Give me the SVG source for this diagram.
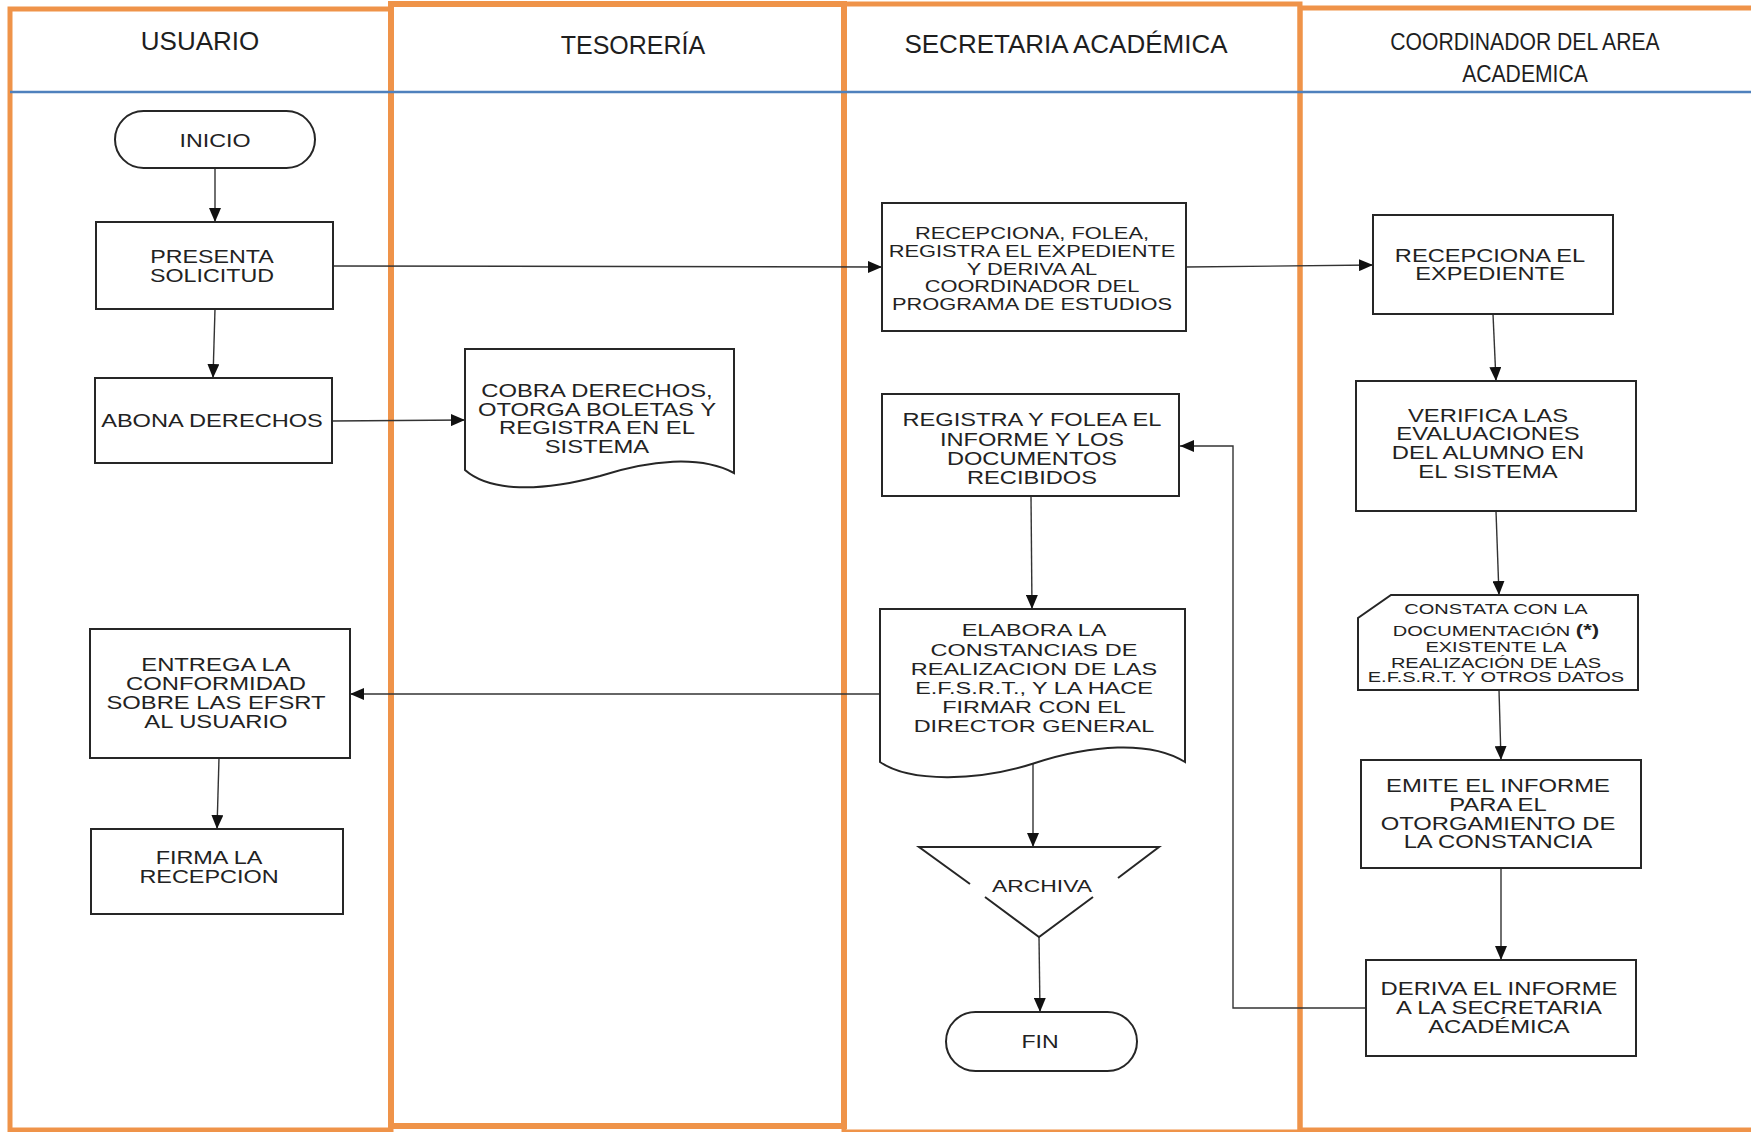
<svg xmlns="http://www.w3.org/2000/svg" width="1751" height="1132" viewBox="0 0 1751 1132">
<style>
.lane{fill:none;stroke:#EF9349;stroke-width:5}
.hdr{font-family:"Liberation Sans",Arial,sans-serif;fill:#1e1e1e;text-anchor:middle}
.box{fill:#fff;stroke:#262626;stroke-width:2}
.shape{fill:none;stroke:#262626;stroke-width:2}
.t{font-family:"Liberation Sans",Arial,sans-serif;fill:#222;text-anchor:middle}
.tb{font-size:18.6px}
.ts{font-size:15.6px}
.te{font-size:16.3px}
.tc{font-size:14.5px}
.ta{font-size:17.2px}
.conn{fill:none;stroke:#333;stroke-width:1.4}
</style>
<defs>
<marker id="arr" markerUnits="userSpaceOnUse" markerWidth="14" markerHeight="12" refX="14" refY="6" orient="auto">
<path d="M0,0 L14,6 L0,12 Z" fill="#111"/>
</marker>
</defs>
<rect width="1751" height="1132" fill="#fff"/>

<g id="lanes">
<rect class="lane" x="10" y="9" width="381" height="1121"/>
<rect class="lane" x="391" y="4" width="453" height="1122" style="stroke-width:6"/>
<rect class="lane" x="844" y="4" width="456" height="1128"/>
<rect class="lane" x="1300" y="8" width="470" height="1122"/>
<line x1="10" y1="92" x2="1751" y2="92" stroke="#4F81BD" stroke-width="2.5"/>
<text class="hdr" x="200" y="50" font-size="26">USUARIO</text>
<text class="hdr" x="633" y="54" font-size="25">TESORERÍA</text>
<text class="hdr" x="1066" y="53" font-size="26">SECRETARIA ACADÉMICA</text>
<text class="hdr" font-size="23" transform="matrix(0.92 0 0 1 122 0)"><tspan x="1525" y="50">COORDINADOR DEL AREA</tspan><tspan x="1525" y="82">ACADEMICA</tspan></text>
</g>

<g id="connectors">
<path class="conn" d="M215,168 L215,222" marker-end="url(#arr)"/>
<path class="conn" d="M215,309 L213,378" marker-end="url(#arr)"/>
<path class="conn" d="M333,266 L882,267" marker-end="url(#arr)"/>
<path class="conn" d="M332,421 L465,420" marker-end="url(#arr)"/>
<path class="conn" d="M1186,267 L1373,265" marker-end="url(#arr)"/>
<path class="conn" d="M1493,314 L1496,381" marker-end="url(#arr)"/>
<path class="conn" d="M1496,511 L1499,595" marker-end="url(#arr)"/>
<path class="conn" d="M1499,690 L1501,760" marker-end="url(#arr)"/>
<path class="conn" d="M1501,868 L1501,960" marker-end="url(#arr)"/>
<path class="conn" d="M1366,1008 H1233 V446 H1180" marker-end="url(#arr)"/>
<path class="conn" d="M1031,496 L1032,609" marker-end="url(#arr)"/>
<path class="conn" d="M880,694 H350" marker-end="url(#arr)"/>
<path class="conn" d="M1033,764 L1033,847" marker-end="url(#arr)"/>
<path class="conn" d="M1039,937 L1040,1012" marker-end="url(#arr)"/>
<path class="conn" d="M219,758 L217,829" marker-end="url(#arr)"/>
</g>

<g id="inicio">
<rect class="box" x="115" y="111" width="200" height="57" rx="28.5"/>
<text class="t tb" x="215" y="146.7" transform="matrix(1.25 0 0 1 -53.75 0)">INICIO</text>
</g>

<g id="presenta">
<rect class="box" x="96" y="222" width="237" height="87"/>
<text class="t tb" transform="matrix(1.25 0 0 1 -53 0)"><tspan x="212" y="263.3">PRESENTA</tspan><tspan x="212" y="282.3">SOLICITUD</tspan></text>
</g>

<g id="abona">
<rect class="box" x="95" y="378" width="237" height="85"/>
<text class="t tb" x="212" y="427.3" transform="matrix(1.27 0 0 1 -57.24 0)">ABONA DERECHOS</text>
</g>

<g id="cobra">
<path class="box" d="M465,349 H734 V473 C700,455 650,460 600,476 C540,492 490,492 465,470 Z"/>
<text class="t tb" transform="matrix(1.28 0 0 1 -167.16 0)"><tspan x="597" y="396.7">COBRA DERECHOS,</tspan><tspan x="597" y="416">OTORGA BOLETAS Y</tspan><tspan x="597" y="434.5">REGISTRA EN EL</tspan><tspan x="597" y="452.7">SISTEMA</tspan></text>
</g>

<g id="recepciona-folea">
<rect class="box" x="882" y="203" width="304" height="128"/>
<text class="t ts" transform="matrix(1.4 0 0 1 -412.8 0)"><tspan x="1032" y="238.8">RECEPCIONA, FOLEA,</tspan><tspan x="1032" y="256.6">REGISTRA EL EXPEDIENTE</tspan><tspan x="1032" y="274.6">Y DERIVA AL</tspan><tspan x="1032" y="292.2">COORDINADOR DEL</tspan><tspan x="1032" y="310">PROGRAMA DE ESTUDIOS</tspan></text>
</g>

<g id="registra-folea">
<rect class="box" x="882" y="394" width="297" height="102"/>
<text class="t tb" transform="matrix(1.27 0 0 1 -278.64 0)"><tspan x="1032" y="426.3">REGISTRA Y FOLEA EL</tspan><tspan x="1032" y="445.7">INFORME Y LOS</tspan><tspan x="1032" y="464.7">DOCUMENTOS</tspan><tspan x="1032" y="484">RECIBIDOS</tspan></text>
</g>

<g id="elabora">
<path class="box" d="M880,609 H1185 V762 C1150,740 1090,745 1035,763 C980,781 910,783 880,762 Z"/>
<text class="t te" transform="matrix(1.44 0 0 1 -454.96 0)"><tspan x="1034" y="636.5">ELABORA LA</tspan><tspan x="1034" y="655.8">CONSTANCIAS DE</tspan><tspan x="1034" y="675.1">REALIZACION DE LAS</tspan><tspan x="1034" y="694.1">E.F.S.R.T., Y LA HACE</tspan><tspan x="1034" y="713.1">FIRMAR CON EL</tspan><tspan x="1034" y="731.8">DIRECTOR GENERAL</tspan></text>
</g>

<g id="archiva">
<path class="shape" d="M970,884 L919,847 H1159 L1118,878 M1093,897 L1039,937 L985,897"/>
<text class="t ta" x="1042" y="891.7" transform="matrix(1.33 0 0 1 -343.86 0)">ARCHIVA</text>
</g>

<g id="fin">
<rect class="box" x="946" y="1012" width="191" height="59" rx="29.5"/>
<text class="t tb" x="1040" y="1048.3" transform="matrix(1.24 0 0 1 -249.6 0)">FIN</text>
</g>

<g id="entrega">
<rect class="box" x="90" y="629" width="260" height="129"/>
<text class="t tb" transform="matrix(1.28 0 0 1 -60.48 0)"><tspan x="216" y="671">ENTREGA LA</tspan><tspan x="216" y="690">CONFORMIDAD</tspan><tspan x="216" y="709.5">SOBRE LAS EFSRT</tspan><tspan x="216" y="728.5">AL USUARIO</tspan></text>
</g>

<g id="firma">
<rect class="box" x="91" y="829" width="252" height="85"/>
<text class="t tb" transform="matrix(1.26 0 0 1 -54.34 0)"><tspan x="209" y="864">FIRMA LA</tspan><tspan x="209" y="883">RECEPCION</tspan></text>
</g>

<g id="recepciona-expediente">
<rect class="box" x="1373" y="215" width="240" height="99"/>
<text class="t tb" transform="matrix(1.27 0 0 1 -402.3 0)"><tspan x="1490" y="261.7">RECEPCIONA EL</tspan><tspan x="1490" y="280">EXPEDIENTE</tspan></text>
</g>

<g id="verifica">
<rect class="box" x="1356" y="381" width="280" height="130"/>
<text class="t tb" transform="matrix(1.28 0 0 1 -416.64 0)"><tspan x="1488" y="421.7">VERIFICA LAS</tspan><tspan x="1488" y="440">EVALUACIONES</tspan><tspan x="1488" y="459">DEL ALUMNO EN</tspan><tspan x="1488" y="477.7">EL SISTEMA</tspan></text>
</g>

<g id="constata">
<path class="box" d="M1391,595 H1638 V690 H1358 V618 Z"/>
<text class="t tc" transform="matrix(1.38 0 0 1 -568.48 0)"><tspan x="1496" y="614">CONSTATA  CON LA</tspan><tspan x="1496" y="636">DOCUMENTACIÓN <tspan font-weight="bold" font-size="16">(*)</tspan></tspan><tspan x="1496" y="652">EXISTENTE LA</tspan><tspan x="1496" y="668">REALIZACIÓN DE LAS</tspan><tspan x="1496" y="682.3">E.F.S.R.T. Y OTROS DATOS</tspan></text>
</g>

<g id="emite">
<rect class="box" x="1361" y="760" width="280" height="108"/>
<text class="t tb" transform="matrix(1.28 0 0 1 -419.44 0)"><tspan x="1498" y="792">EMITE EL INFORME</tspan><tspan x="1498" y="811">PARA EL</tspan><tspan x="1498" y="830">OTORGAMIENTO DE</tspan><tspan x="1498" y="848.5">LA CONSTANCIA</tspan></text>
</g>

<g id="deriva">
<rect class="box" x="1366" y="960" width="270" height="96"/>
<text class="t tb" transform="matrix(1.28 0 0 1 -419.72 0)"><tspan x="1499" y="995">DERIVA EL INFORME</tspan><tspan x="1499" y="1014">A LA SECRETARIA</tspan><tspan x="1499" y="1033">ACADÉMICA</tspan></text>
</g>
</svg>
